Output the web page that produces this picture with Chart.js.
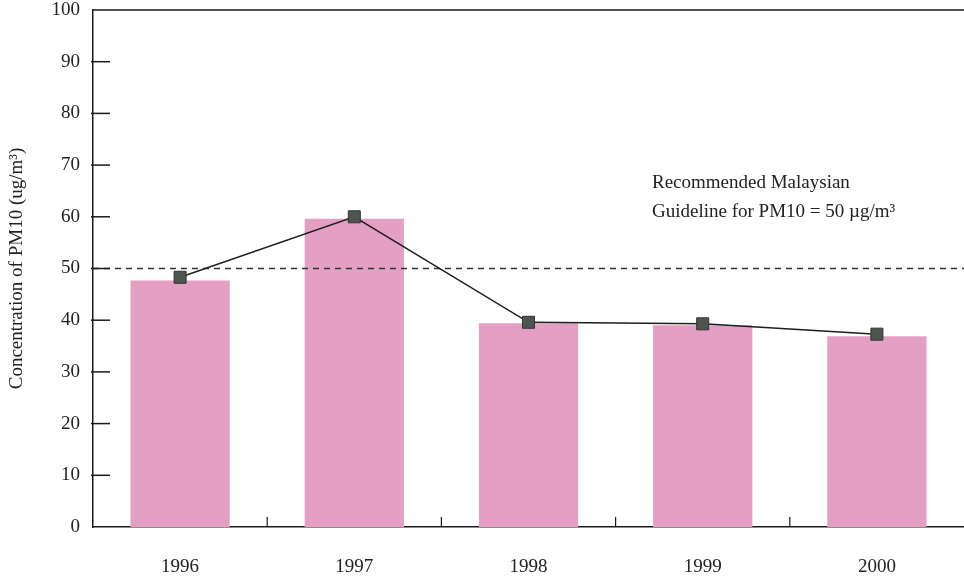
<!DOCTYPE html>
<html>
<head>
<meta charset="utf-8">
<script src="https://cdn.jsdelivr.net/npm/chart.js@4.4.1/dist/chart.umd.min.js"></script>
<style>
html, body { margin: 0; padding: 0; background: #fff; }
#wrap { width: 964px; height: 583px; }
</style>
</head>
<body>
<div id="wrap"><canvas id="myChart" width="964" height="583"></canvas></div>
<script>
// data
var years = ['1996', '1997', '1998', '1999', '2000'];
var barValues = [47.7, 59.6, 39.4, 39.0, 36.9];
var lineValues = [48.3, 60.0, 39.6, 39.3, 37.3];
var yTicks = [0, 10, 20, 30, 40, 50, 60, 70, 80, 90, 100];
var guideline = 50;
var noteLines = ['Recommended Malaysian', 'Guideline for PM10 = 50 \u00b5g/m\u00b3'];

var serif = '"Liberation Serif", "DejaVu Serif", serif';

// inward ticks, guideline, top frame and the note
var extras = {
    id: 'extras',
    afterDatasetDraw: function(chart, args) {
        if (args.meta.type !== 'bar') return;
        var ctx = chart.ctx;
        var area = chart.chartArea;
        var y = chart.scales.y.getPixelForValue(guideline);
        ctx.save();
        ctx.strokeStyle = '#333';
        ctx.lineWidth = 1.4;
        ctx.setLineDash([6, 5]);
        ctx.beginPath();
        ctx.moveTo(area.left, y);
        ctx.lineTo(area.right, y);
        ctx.stroke();
        ctx.restore();
    },
    afterDraw: function(chart) {
        var ctx = chart.ctx;
        var area = chart.chartArea;
        var ys = chart.scales.y;
        var xs = chart.scales.x;
        ctx.save();
        ctx.strokeStyle = '#1a1a1a';
        ctx.lineWidth = 1.5;
        // top frame line
        ctx.beginPath();
        ctx.moveTo(area.left, area.top);
        ctx.lineTo(area.right, area.top);
        ctx.stroke();
        // y ticks pointing into the plot
        yTicks.forEach(function(v) {
            if (v === 0 || v === 100) return;
            var py = ys.getPixelForValue(v);
            ctx.beginPath();
            ctx.moveTo(area.left - 2, py);
            ctx.lineTo(area.left + 17, py);
            ctx.stroke();
        });
        // x ticks between the categories
        ctx.lineWidth = 1.2;
        for (var i = 0; i < years.length - 1; i++) {
            var px = (xs.getPixelForValue(i) + xs.getPixelForValue(i + 1)) / 2;
            ctx.beginPath();
            ctx.moveTo(px, area.bottom);
            ctx.lineTo(px, area.bottom - 10);
            ctx.stroke();
        }
        // note text
        ctx.fillStyle = '#222';
        ctx.font = '19px ' + serif;
        ctx.textBaseline = 'middle';
        ctx.textAlign = 'left';
        ctx.fillText(noteLines[0], 652, 183);
        ctx.fillText(noteLines[1], 652, 212);
        ctx.restore();
    }
};

var ctx = document.getElementById('myChart').getContext('2d');
var myChart = new Chart(ctx, {
    data: {
        labels: years,
        datasets: [{
            type: 'line',
            data: lineValues,
            borderColor: '#1e1e1e',
            borderWidth: 1.5,
            pointStyle: 'rect',
            pointRadius: 8.5,
            pointBackgroundColor: '#4d554f',
            pointBorderColor: '#333',
            pointBorderWidth: 1,
            order: 0
        }, {
            type: 'bar',
            data: barValues,
            backgroundColor: '#e4a0c4',
            categoryPercentage: 1.0,
            barPercentage: 0.57,
            order: 1
        }]
    },
    options: {
        responsive: false,
        animation: false,
        layout: { autoPadding: false, padding: { top: 10, right: 0, left: 0, bottom: 0 } },
        plugins: {
            legend: { display: false },
            tooltip: { enabled: false }
        },
        scales: {
            x: {
                grid: { display: false },
                border: { display: true, color: '#1a1a1a', width: 1.5 },
                ticks: { color: '#222', font: { family: serif, size: 19 }, padding: 21 },
                afterFit: function(scale) {
                    scale.height = 56;
                    scale.paddingLeft = 0;
                    scale.paddingRight = 0;
                }
            },
            y: {
                min: 0,
                max: 100,
                afterBuildTicks: function(scale) {
                    scale.ticks = yTicks.map(function(v) { return { value: v }; });
                },
                grid: { display: false },
                border: { display: true, color: '#1a1a1a', width: 1.5 },
                ticks: { color: '#222', font: { family: serif, size: 19 }, padding: 5 },
                title: {
                    display: true,
                    text: 'Concentration of PM10 (ug/m\u00b3)',
                    color: '#222',
                    font: { family: serif, size: 19 },
                    padding: { top: 6, bottom: 0 }
                },
                afterFit: function(scale) {
                    scale.width = 93;
                    scale.paddingTop = 0;
                    scale.paddingBottom = 0;
                }
            }
        }
    },
    plugins: [extras]
});
</script>
</body>
</html>
